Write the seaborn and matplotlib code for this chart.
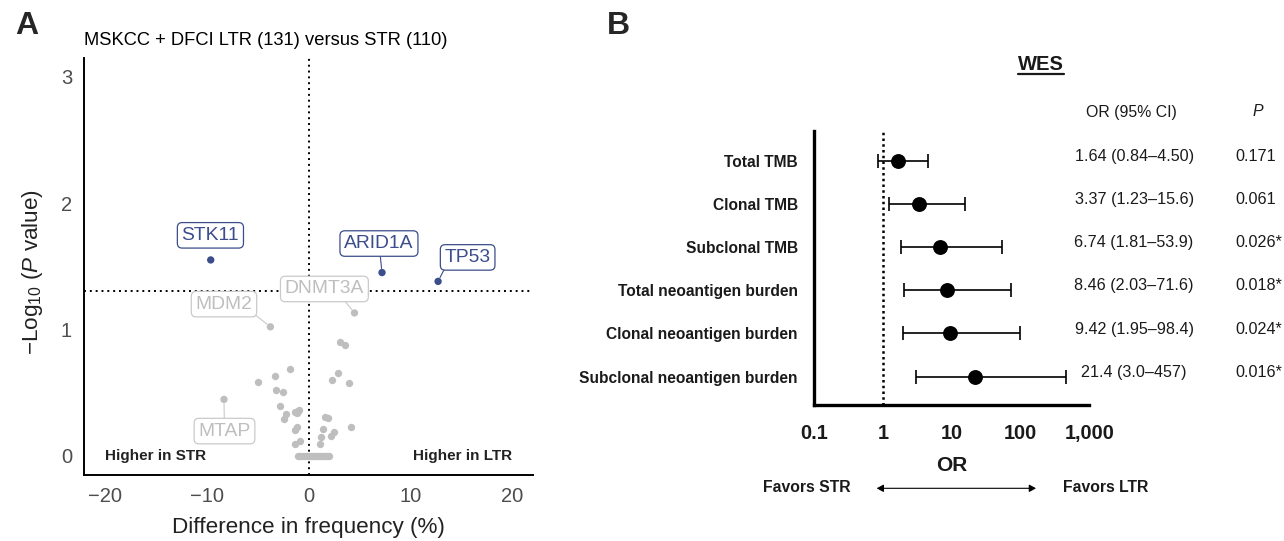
import matplotlib
matplotlib.use("Agg")
import matplotlib.pyplot as plt
import seaborn as sns
import numpy as np
import pandas as pd
from matplotlib.lines import Line2D
from matplotlib.ticker import NullLocator

# ---------------- data: panel A (volcano) ----------------
gene_names = ["STK11", "ARID1A", "TP53", "DNMT3A", "MDM2", "MTAP"]
gene_diff = [-9.6, 7.2, 12.7, 4.5, -3.75, -8.3]
gene_logp = [1.55, 1.45, 1.38, 1.13, 1.02, 0.445]
gene_significant = [True, True, True, False, False, False]

other_diff = [3.08, 3.57, -1.82, -3.29, -4.93, 2.92, 2.33, 3.99, -3.16, -2.54,
              -2.8, -2.2, -2.38, -1.33, -0.94, -1.14, -1.0, 1.61, 1.93, -1.17,
              -1.36, 1.38, 1.18, 2.49, 2.16, 4.16, -1.36, -0.88, 1.15]
other_logp = [0.898, 0.875, 0.682, 0.632, 0.585, 0.653, 0.600, 0.574, 0.516, 0.50,
              0.392, 0.328, 0.289, 0.347, 0.36, 0.334, 0.35, 0.305, 0.294, 0.228,
              0.202, 0.207, 0.144, 0.184, 0.157, 0.223, 0.091, 0.117, 0.091]
zero_diff = [-1.0, -0.8, -0.6, -0.4, -0.2, 0.0, 0.2, 0.4, 0.6, 0.8, 1.0, 1.2, 1.4, 1.6, 1.8, 2.0]
zero_logp = [0.0, 0.0, 0.0, 0.0, 0.0, 0.0, 0.0, 0.0, 0.0, 0.0, 0.0, 0.0, 0.0, 0.0, 0.0, 0.0]

a_xticks = [-20, -10, 0, 10, 20]
a_yticks = [0, 1, 2, 3]
p_threshold = 0.05

# ---------------- data: panel B (forest) ----------------
features = ["Total TMB", "Clonal TMB", "Subclonal TMB", "Total neoantigen burden",
            "Clonal neoantigen burden", "Subclonal neoantigen burden"]
odds_ratio = [1.64, 3.37, 6.74, 8.46, 9.42, 21.4]
ci_low = [0.84, 1.23, 1.81, 2.03, 1.95, 3.0]
ci_high = [4.50, 15.6, 53.9, 71.6, 98.4, 457]
or_text = ["1.64 (0.84\u20134.50)", "3.37 (1.23\u201315.6)", "6.74 (1.81\u201353.9)",
           "8.46 (2.03\u201371.6)", "9.42 (1.95\u201398.4)", "21.4 (3.0\u2013457)"]
p_text = ["0.171", "0.061", "0.026*", "0.018*", "0.024*", "0.016*"]
b_xticks = [0.1, 1, 10, 100, 1000]
b_xticklabels = ["0.1", "1", "10", "100", "1,000"]

# ---------------- style ----------------
sns.set_style("white")
plt.rcParams["font.family"] = ["Liberation Sans", "DejaVu Sans"]
plt.rcParams["mathtext.fontset"] = "custom"
plt.rcParams["mathtext.rm"] = "Liberation Sans"
plt.rcParams["mathtext.it"] = "Liberation Sans:italic"

BLUE = "#3B4D8A"
GREY = "#BEBEBE"
GREY_EDGE = "#CACACA"
TICK_GREY = "#4D4D4D"

W, H = 1284, 541
fig = plt.figure(figsize=(W / 100, H / 100), dpi=100)
fig.patch.set_facecolor("white")


def fx(px):
    return px / W


def fy(py):
    return 1 - py / H


# ---------------- panel A ----------------
axA = fig.add_axes([fx(84.3), fy(474.5), fx(532.9) - fx(84.3), fy(58) - fy(474.5)])
df_other = pd.DataFrame({"diff": other_diff + zero_diff, "logp": other_logp + zero_logp})
sns.scatterplot(data=df_other, x="diff", y="logp", color=GREY, s=28, linewidth=0,
                ax=axA, zorder=3)
df_genes = pd.DataFrame({"gene": gene_names, "diff": gene_diff, "logp": gene_logp,
                         "sig": gene_significant})
sns.scatterplot(data=df_genes, x="diff", y="logp", hue="sig",
                palette={True: BLUE, False: GREY}, s=28, linewidth=0,
                legend=False, ax=axA, zorder=4)

axA.axvline(0, color="black", ls=(0, (1, 2)), lw=1.4, zorder=1)
axA.axhline(-np.log10(p_threshold), color="black", ls=(0, (1, 2)), lw=1.4, zorder=1)

axA.set_xlim(-22, 22)
axA.set_ylim(-0.15, 3.15)
axA.set_xticks(a_xticks)
axA.set_xticklabels(["\u221220", "\u221210", "0", "10", "20"])
axA.set_yticks(a_yticks)
axA.tick_params(axis="both", direction="out", length=3.8, width=0.9, color="#333333",
                labelsize=14.5, labelcolor=TICK_GREY, pad=5.5)
axA.tick_params(axis="y", pad=5)
for side in ["top", "right"]:
    axA.spines[side].set_visible(False)
for side in ["left", "bottom"]:
    axA.spines[side].set_linewidth(1.4)
    axA.spines[side].set_color("black")

axA.set_xlabel("Difference in frequency (%)", fontsize=16.2, color="#222222")
axA.set_ylabel("\u2212Log$_{10}$ ($\\mathit{P}$ value)", fontsize=16.2, color="#222222")
axA.xaxis.set_label_coords(0.5, -0.103)
axA.yaxis.set_label_coords(-0.088, 0.486)

axA.text(0.0, 1.043, "MSKCC + DFCI LTR (131) versus STR (110)", transform=axA.transAxes,
         ha="left", va="center", fontsize=13.2, color="black")
axA.text(-20, 0, "Higher in STR", ha="left", va="center", fontsize=11, fontweight="bold",
         color="#222222")
axA.text(20, 0, "Higher in LTR", ha="right", va="center", fontsize=11, fontweight="bold",
         color="#222222")

# label placement (layout)
label_pos = {"STK11": (-9.63, 1.745), "ARID1A": (6.9, 1.68), "TP53": (15.6, 1.57),
             "DNMT3A": (1.55, 1.32), "MDM2": (-8.3, 1.20), "MTAP": (-8.25, 0.194)}
label_relpos = {"STK11": (0.5, 0.5), "ARID1A": (0.5, 0.5), "TP53": (0.03, 0.0),
                "DNMT3A": (0.72, 0.0), "MDM2": (1.0, 0.0), "MTAP": (0.5, 0.5)}
for name, xd, yd, sig in zip(gene_names, gene_diff, gene_logp, gene_significant):
    col = BLUE if sig else GREY
    ecol = BLUE if sig else GREY_EDGE
    lx, ly = label_pos[name]
    arrow = None if name == "STK11" else dict(arrowstyle="-", color=ecol, lw=0.8,
                                              shrinkA=0, shrinkB=3,
                                              relpos=label_relpos[name])
    axA.annotate(name, xy=(xd, yd), xytext=(lx, ly), ha="center", va="center",
                 fontsize=13.9, color=col, zorder=5,
                 bbox=dict(boxstyle="round,pad=0.22,rounding_size=0.25", fc="white",
                           ec=ecol, lw=0.9),
                 arrowprops=arrow)

# ---------------- panel B ----------------
axB = fig.add_axes([fx(814.4), fy(405), fx(1089.3) - fx(814.4), fy(130.7) - fy(405)])
rows = np.arange(len(features))
orr = np.array(odds_ratio)
lo = np.array(ci_low)
hi = np.array(ci_high)
axB.errorbar(orr, rows, xerr=[orr - lo, hi - orr], fmt="none", ecolor="black",
             elinewidth=1.2, capsize=4.7, capthick=1.2, zorder=3)
sns.scatterplot(x=orr, y=rows, color="black", s=115, linewidth=0, ax=axB, zorder=4)
axB.set_xscale("log")
axB.set_xlim(0.1, 1000)
axB.set_ylim(len(features) - 1 + 0.655, -0.694)
axB.axvline(1, color="black", ls=(0, (1, 1.3)), lw=1.8, zorder=2)
axB.set_xticks(b_xticks)
axB.set_xticklabels(b_xticklabels)
axB.xaxis.set_minor_locator(NullLocator())
axB.set_yticks(rows)
axB.set_yticklabels(features)
axB.tick_params(axis="x", direction="out", length=8, width=2.2, color="black",
                labelsize=14.3, pad=6)
axB.tick_params(axis="y", direction="out", length=8, width=2.2, color="black",
                labelsize=11.2, pad=4)
for lab in axB.get_xticklabels() + axB.get_yticklabels():
    lab.set_fontweight("bold")
    lab.set_color("#1a1a1a")
for side in ["top", "right"]:
    axB.spines[side].set_visible(False)
for side in ["left", "bottom"]:
    axB.spines[side].set_linewidth(2.4)
    axB.spines[side].set_color("black")
axB.set_xlabel("OR", fontsize=15, fontweight="bold", labelpad=9, color="#1a1a1a")

for i, (t, p) in enumerate(zip(or_text, p_text)):
    axB.text(1.163, i - 0.1, t, transform=axB.get_yaxis_transform(), ha="center",
             va="center", fontsize=11.6, color="#1a1a1a")
    axB.text(1.530, i - 0.1, p, transform=axB.get_yaxis_transform(), ha="left",
             va="center", fontsize=11.6, color="#1a1a1a")

fig.text(fx(1131), fy(113), "OR (95% CI)", ha="center", va="center", fontsize=11.4,
         color="#1a1a1a")
fig.text(fx(1258), fy(112), "P", ha="center", va="center", fontsize=11.4,
         style="italic", color="#1a1a1a")
wes = fig.text(fx(1041), fy(65), "WES", ha="center", va="center", fontsize=14.5,
               fontweight="bold", color="#1a1a1a")
fig.text(fx(850.7), fy(488), "Favors STR", ha="right", va="center", fontsize=11.3,
         fontweight="bold", color="#1a1a1a")
fig.text(fx(1062.7), fy(488), "Favors LTR", ha="left", va="center", fontsize=11.3,
         fontweight="bold", color="#1a1a1a")
fig.add_artist(matplotlib.patches.FancyArrowPatch(
    (fx(876.7), fy(488.3)), (fx(1036), fy(488.3)), transform=fig.transFigure,
    arrowstyle="<|-|>,head_length=4,head_width=2.2", lw=0.8, color="black",
    shrinkA=0, shrinkB=0))

# panel letters
fig.text(fx(15), fy(26), "A", ha="left", va="center", fontsize=23, fontweight="bold")
fig.text(fx(607), fy(26), "B", ha="left", va="center", fontsize=23, fontweight="bold")

# underline WES
fig.canvas.draw()
bb = wes.get_window_extent(renderer=fig.canvas.get_renderer())
uy = bb.y0 + 1.0
fig.add_artist(Line2D([bb.x0 / W, bb.x1 / W], [uy / H, uy / H], color="#1a1a1a",
                      lw=1.6, transform=fig.transFigure))

fig.savefig("out.png", dpi=100, facecolor="white")
